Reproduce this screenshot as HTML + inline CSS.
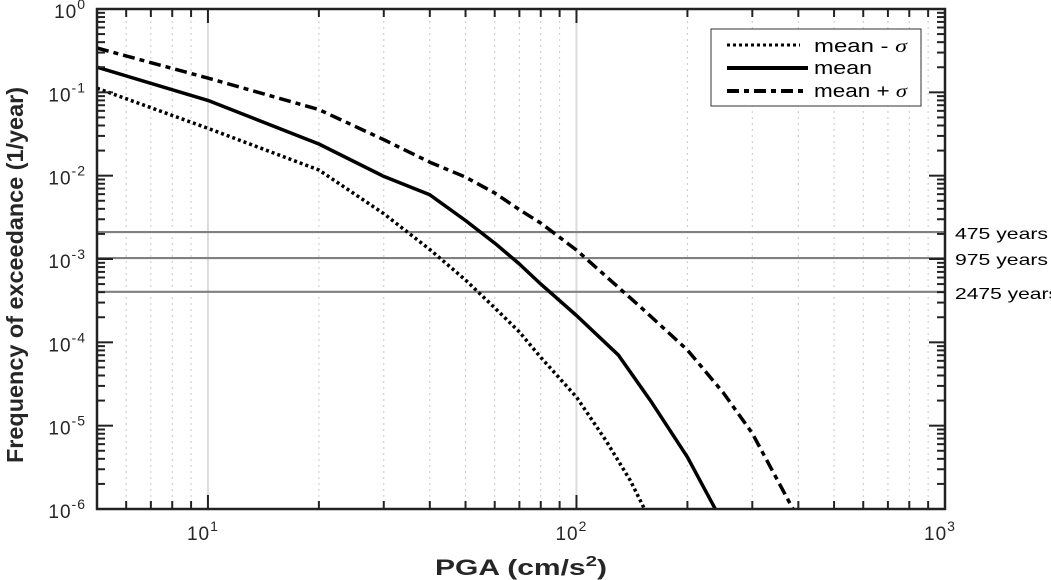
<!DOCTYPE html>
<html><head><meta charset="utf-8"><style>
body{margin:0;background:#fff;overflow:hidden;}
svg{display:block;font-family:"Liberation Sans",sans-serif;}
</style></head><body>
<svg id="chart" width="1051" height="580" viewBox="0 0 1051 580" xmlns="http://www.w3.org/2000/svg">
<g id="grid"></g>
<g id="refs"></g>
<g id="series"></g>
<g id="axes"></g>
<text transform="translate(23,275) rotate(-90)" text-anchor="middle" font-size="23" font-weight="bold" fill="#262626" textLength="376" lengthAdjust="spacingAndGlyphs">Frequency of exceedance (1/year)</text>
<text x="435" y="575" font-size="22" font-weight="bold" fill="#262626" textLength="172" lengthAdjust="spacingAndGlyphs">PGA (cm/s<tspan dy="-9" font-size="15">2</tspan><tspan dy="9">)</tspan></text>
<g>
<rect x="711" y="29" width="210" height="77" fill="#fff" stroke="#333" stroke-width="1"/>
<line x1="727" y1="45" x2="800" y2="45" stroke="#000" stroke-width="3" stroke-dasharray="3,3"/>
<text x="814" y="52" font-size="18" textLength="93" lengthAdjust="spacingAndGlyphs">mean - <tspan font-family="Liberation Serif" font-style="italic">σ</tspan></text>
<line x1="727" y1="68" x2="808" y2="68" stroke="#000" stroke-width="4"/>
<text x="814" y="74" font-size="18" textLength="58" lengthAdjust="spacingAndGlyphs">mean</text>
<line x1="727" y1="91" x2="808" y2="91" stroke="#000" stroke-width="4" stroke-dasharray="12,5,5,5"/>
<text x="814" y="97" font-size="18" textLength="93" lengthAdjust="spacingAndGlyphs">mean + <tspan font-family="Liberation Serif" font-style="italic">σ</tspan></text>
</g>
</svg>
<script>
const pgaMinus=[5,10,20,30,40,50,60,70,80,100,120,140,160];
const valMinus=[0.112,0.037,0.0117,0.0035,0.0013,0.00056,0.00026,0.000133,0.000066,0.000022,0.0000067,0.0000022,0.00000067];
const pgaMean=[5,10,20,30,40,50,60,70,80,100,130,160,200,250];
const valMean=[0.2,0.08,0.024,0.0098,0.0059,0.0029,0.00155,0.00087,0.0005,0.00021,0.00007,0.000019,0.0000042,0.00000067];
const pgaPlus=[5,10,20,30,40,50,60,70,80,100,150,200,250,300,400];
const valPlus=[0.34,0.148,0.062,0.027,0.0145,0.0096,0.0062,0.0039,0.0027,0.00128,0.00026,0.000081,0.000025,0.0000081,0.00000076];
const returnPeriods=[475,975,2475];
const returnLabels=["475 years","975 years","2475 years"];
const xTickExp=[1,2,3];
const yTickExp=[0,-1,-2,-3,-4,-5,-6];

const L=97,R=945,T=9,B=509;
const NS="http://www.w3.org/2000/svg";
const xs=v=>L+(Math.log10(v)-Math.log10(5))/(3-Math.log10(5))*(R-L);
const ys=v=>T+(0-Math.log10(v))/6*(B-T);
function mk(tag,attrs,parent){const e=document.createElementNS(NS,tag);for(const k in attrs)e.setAttribute(k,attrs[k]);parent.appendChild(e);return e;}
const grid=document.getElementById('grid'),axes=document.getElementById('axes'),refs=document.getElementById('refs'),ser=document.getElementById('series');

for(let d=0;d<3;d++){for(let m=1;m<10;m++){const v=m*Math.pow(10,d);if(v<5||v>1000)continue;const x=xs(v);
 if(m===1){if(v!==1000){const g=mk('line',{x1:x,y1:T,x2:x,y2:B,stroke:'#dcdcdc','stroke-width':2},grid);
 
 }}
 else{const g=mk('line',{x1:x,y1:T,x2:x,y2:B,stroke:'#c8c8c8','stroke-width':1,'stroke-dasharray':'2,4'},grid);
 
 }
 const len=m===1?14:8;
 const t1=mk('line',{x1:x,y1:B,x2:x,y2:B-len,stroke:'#222','stroke-width':2},axes);
 
 
 const t2=mk('line',{x1:x,y1:T,x2:x,y2:T+len,stroke:'#222','stroke-width':2},axes);
 
 
}}
for(let e=-6;e<0;e++){for(let m=1;m<10;m++){const v=m*Math.pow(10,e);const y=ys(v);const len=m===1?16:8;
 const a=mk('line',{x1:L,y1:y,x2:L+len,y2:y,stroke:'#222','stroke-width':2},axes);
 
 
 const b=mk('line',{x1:R,y1:y,x2:R-len,y2:y,stroke:'#222','stroke-width':2},axes);
 
 
}}
returnPeriods.forEach((p,i)=>{const y=ys(1/p);
 const l=mk('line',{x1:L,y1:y,x2:R,y2:y,stroke:'#808080','stroke-width':2.2},refs);
 
 
 const t=mk('text',{x:955,y:y+7,'font-size':16,textLength:(i===2?104:93),lengthAdjust:'spacingAndGlyphs'},refs);t.textContent=returnLabels[i];
 
 
});
const clip=mk('clipPath',{id:'pc'},ser);mk('rect',{x:L,y:T,width:R-L,height:B-T},clip);
function series(px,py,dash,w,name){const d=px.map((p,i)=>(i?'L':'M')+xs(p).toFixed(1)+','+ys(py[i]).toFixed(1)).join(' ');
 const a={d:d,fill:'none',stroke:'#000','stroke-width':w,'clip-path':'url(#pc)','stroke-linejoin':'round'};if(dash)a['stroke-dasharray']=dash;
 const p=mk('path',a,ser);
 
 }
series(pgaMinus,valMinus,'3,3',3.5,'mean-minus-sigma-line');
series(pgaMean,valMean,null,3.5,'mean-line');
series(pgaPlus,valPlus,'12,5,5,5',3.5,'mean-plus-sigma-line');
const fr=mk('rect',{x:L,y:T,width:R-L,height:B-T,fill:'none',stroke:'#222','stroke-width':2.5},axes);


xTickExp.forEach(e=>{const t=mk('text',{x:xs(Math.pow(10,e))-21,y:540,'font-size':19,fill:'#262626','letter-spacing':'1'},axes);
 t.innerHTML='10<tspan dy="-9" font-size="14">'+e+'</tspan>';
 
 });
yTickExp.forEach(e=>{const t=mk('text',{x:86,y:ys(Math.pow(10,e))+9,'text-anchor':'end','font-size':19,fill:'#262626','letter-spacing':'1'},axes);
 t.innerHTML='10<tspan dy="-9" font-size="14">'+e+'</tspan>';
 
 });
</script>
</body></html>
